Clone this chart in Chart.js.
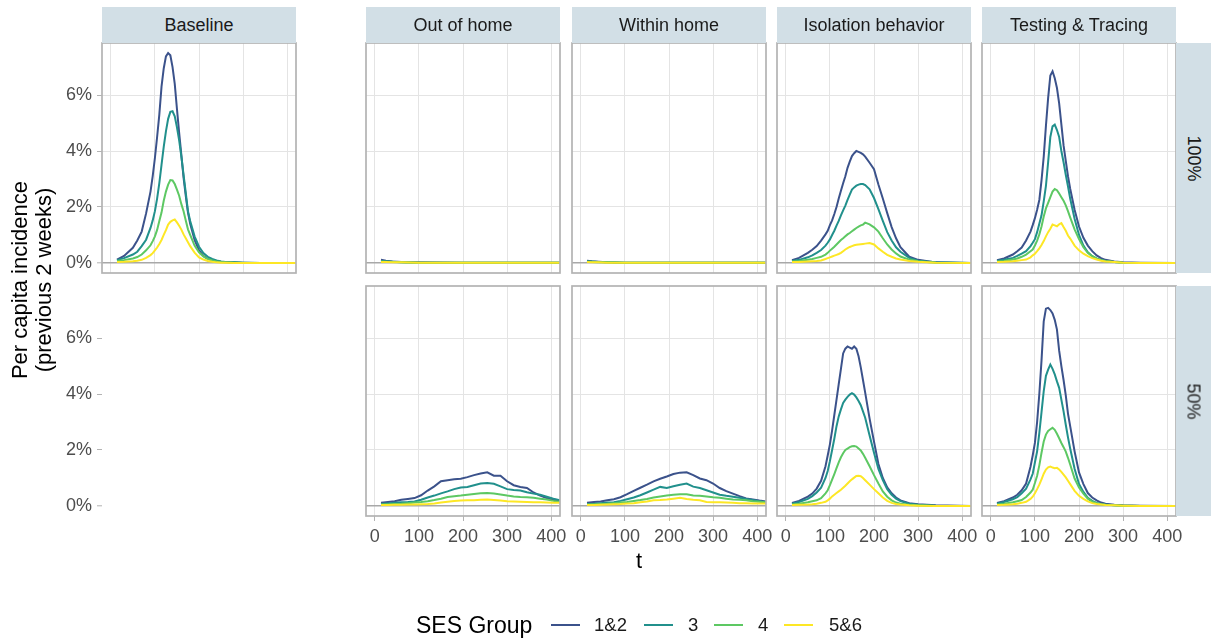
<!DOCTYPE html>
<html>
<head>
<meta charset="utf-8">
<title>Per capita incidence by SES group</title>
<script src="https://cdn.jsdelivr.net/npm/chart.js@4.4.1/dist/chart.umd.min.js"></script>
<style>
  html, body { margin: 0; padding: 0; background: #ffffff; }
  #fig {
    position: relative; width: 1211px; height: 642px; overflow: hidden; background: #ffffff;
    font-family: "Liberation Sans", Arial, Helvetica, sans-serif;
  }
  #fig canvas { position: absolute; left: 0; top: 0; }
  .strip {
    position: absolute; background: #d2dfe6; color: #1a1a1a; font-size: 18px;
    display: flex; align-items: center; justify-content: center; white-space: nowrap;
  }
  .strip.side span { display: inline-block; transform: rotate(90deg); }
  .title { position: absolute; color: #000; white-space: nowrap; text-align: center; }
  .key { position: absolute; height: 2px; width: 29px; }
  .klabel { position: absolute; font-size: 18.5px; color: #1a1a1a; line-height: 22px; }
</style>
</head>
<body>
<div id="fig"></div>
<script>
// ---- values (per capita incidence over previous 2 weeks, in %) ----
const SES_GROUPS = ['1&2', '3', '4', '5&6'];
const SES_COLORS = ['#3B528B', '#21908C', '#5DC863', '#FDE725'];
const SCENARIOS = ['Baseline', 'Out of home', 'Within home', 'Isolation behavior', 'Testing & Tracing'];
const COMPLIANCE = ['100%', '50%'];
const X_TICKS = [0, 100, 200, 300, 400];
const Y_TICKS = [0, 2, 4, 6];

// day grids
const T_PEAK = [14, 30, 50, 60, 70, 80, 90, 95, 100, 105, 110, 115, 120, 125, 130, 135, 140, 145, 150, 155,
                160, 165, 170, 175, 180, 190, 200, 210, 220, 230, 240, 250, 260, 280, 300, 340, 420];
const T_BROAD = [14, 30, 45, 60, 75, 90, 105, 120, 135, 150, 165, 180, 195, 210, 225, 240, 255, 270, 285, 300,
                 315, 330, 345, 360, 375, 390, 405, 420];
const T_EARLY = [14, 25, 40, 60, 100, 200, 300, 420];

// Baseline
const BASE_12 = [0.12, 0.25, 0.54, 0.8, 1.12, 1.77, 2.55, 3.1, 3.75, 4.5, 5.3, 6.3, 6.95, 7.38, 7.5, 7.42, 7.0, 6.4, 5.5, 4.65, 3.85, 3.05, 2.4, 1.8, 1.4, 0.82, 0.45, 0.25, 0.15, 0.1, 0.06, 0.04, 0.03, 0.02, 0.01, 0, 0];
const BASE_3  = [0.1, 0.17, 0.3, 0.4, 0.6, 0.83, 1.25, 1.52, 1.85, 2.3, 2.85, 3.5, 4.15, 4.7, 5.15, 5.4, 5.42, 5.24, 4.85, 4.38, 3.8, 3.15, 2.5, 1.85, 1.5, 0.95, 0.58, 0.35, 0.22, 0.14, 0.09, 0.05, 0.03, 0.02, 0.01, 0, 0];
const BASE_4  = [0.07, 0.1, 0.16, 0.21, 0.3, 0.45, 0.63, 0.78, 0.95, 1.18, 1.5, 1.8, 2.22, 2.55, 2.8, 2.96, 2.95, 2.82, 2.62, 2.4, 2.1, 1.85, 1.52, 1.2, 1.0, 0.62, 0.38, 0.23, 0.14, 0.09, 0.05, 0.03, 0.02, 0.01, 0, 0, 0];
const BASE_56 = [0.03, 0.04, 0.06, 0.08, 0.11, 0.18, 0.28, 0.35, 0.45, 0.55, 0.68, 0.82, 1.0, 1.17, 1.37, 1.47, 1.52, 1.55, 1.45, 1.33, 1.19, 1.02, 0.88, 0.74, 0.6, 0.37, 0.2, 0.12, 0.07, 0.04, 0.02, 0.01, 0.01, 0, 0, 0, 0];

// Out of home, 100%
const OUT100_12 = [0.11, 0.08, 0.05, 0.03, 0.02, 0.01, 0.01, 0.01];
const OUT100_3  = [0.07, 0.06, 0.04, 0.02, 0.01, 0.01, 0.01, 0.01];
const OUT100_4  = [0.05, 0.04, 0.03, 0.02, 0.01, 0.01, 0.01, 0.01];
const OUT100_56 = [0.03, 0.03, 0.02, 0.02, 0.01, 0.01, 0.01, 0.01];

// Within home, 100%
const IN100_12 = [0.08, 0.06, 0.04, 0.02, 0.01, 0.01, 0.01, 0.01];
const IN100_3  = [0.06, 0.05, 0.03, 0.02, 0.01, 0.01, 0.01, 0.01];
const IN100_4  = [0.04, 0.03, 0.02, 0.02, 0.01, 0.01, 0.01, 0.01];
const IN100_56 = [0.03, 0.02, 0.02, 0.01, 0.01, 0.01, 0.01, 0.01];

// Isolation behavior, 100%
const ISO100_12 = [0.1, 0.18, 0.36, 0.47, 0.6, 0.8, 1.02, 1.15, 1.35, 1.52, 1.75, 2.0, 2.3, 2.58, 2.85, 3.1, 3.4, 3.62, 3.82, 3.92, 4.0, 3.97, 3.93, 3.88, 3.8, 3.58, 3.35, 2.8, 2.3, 1.78, 1.28, 0.88, 0.56, 0.22, 0.11, 0.02, 0];
const ISO100_3  = [0.07, 0.11, 0.2, 0.27, 0.36, 0.46, 0.62, 0.72, 0.84, 1.0, 1.15, 1.33, 1.5, 1.7, 1.88, 2.05, 2.25, 2.44, 2.62, 2.7, 2.76, 2.8, 2.82, 2.82, 2.78, 2.63, 2.32, 1.92, 1.5, 1.1, 0.8, 0.56, 0.4, 0.18, 0.08, 0.02, 0];
const ISO100_4  = [0.05, 0.07, 0.11, 0.14, 0.18, 0.22, 0.3, 0.36, 0.44, 0.51, 0.58, 0.66, 0.74, 0.82, 0.88, 0.95, 1.02, 1.07, 1.13, 1.19, 1.25, 1.3, 1.34, 1.37, 1.44, 1.38, 1.27, 1.12, 0.88, 0.66, 0.48, 0.34, 0.23, 0.12, 0.06, 0.01, 0];
const ISO100_56 = [0.03, 0.03, 0.05, 0.06, 0.07, 0.09, 0.14, 0.17, 0.2, 0.23, 0.26, 0.29, 0.32, 0.36, 0.42, 0.48, 0.53, 0.57, 0.6, 0.63, 0.65, 0.66, 0.67, 0.68, 0.69, 0.71, 0.66, 0.52, 0.4, 0.29, 0.22, 0.16, 0.12, 0.07, 0.04, 0.01, 0];

// Testing & Tracing, 100%
const TT100_12 = [0.1, 0.16, 0.3, 0.42, 0.55, 0.8, 1.12, 1.35, 1.6, 1.9, 2.25, 2.95, 3.8, 4.9, 5.9, 6.7, 6.85, 6.6, 6.25, 5.7, 4.95, 4.2, 3.65, 3.1, 2.65, 1.9, 1.3, 0.9, 0.62, 0.42, 0.27, 0.17, 0.11, 0.05, 0.02, 0.01, 0];
const TT100_3  = [0.07, 0.11, 0.18, 0.25, 0.33, 0.42, 0.6, 0.72, 0.85, 1.1, 1.4, 1.7, 2.2, 2.75, 3.6, 4.5, 4.88, 4.94, 4.75, 4.5, 4.0, 3.6, 3.15, 2.74, 2.3, 1.58, 1.0, 0.62, 0.38, 0.24, 0.15, 0.1, 0.06, 0.03, 0.01, 0, 0];
const TT100_4  = [0.05, 0.07, 0.12, 0.16, 0.22, 0.3, 0.42, 0.48, 0.62, 0.8, 1.02, 1.3, 1.66, 1.95, 2.15, 2.35, 2.55, 2.64, 2.6, 2.48, 2.35, 2.22, 2.06, 1.85, 1.63, 1.2, 0.85, 0.56, 0.36, 0.24, 0.16, 0.11, 0.07, 0.03, 0.01, 0, 0];
const TT100_56 = [0.03, 0.04, 0.06, 0.08, 0.1, 0.12, 0.2, 0.27, 0.33, 0.42, 0.52, 0.64, 0.78, 0.95, 1.1, 1.22, 1.37, 1.34, 1.31, 1.38, 1.42, 1.28, 1.15, 0.98, 0.87, 0.62, 0.45, 0.33, 0.24, 0.17, 0.12, 0.08, 0.05, 0.03, 0.01, 0, 0];

// Out of home, 50%
const OUT50_12 = [0.11, 0.14, 0.17, 0.22, 0.25, 0.28, 0.38, 0.55, 0.7, 0.88, 0.92, 0.95, 0.97, 1.03, 1.1, 1.16, 1.2, 1.08, 1.08, 0.88, 0.74, 0.68, 0.64, 0.48, 0.37, 0.28, 0.21, 0.16];
const OUT50_3  = [0.07, 0.09, 0.11, 0.13, 0.14, 0.16, 0.22, 0.3, 0.37, 0.45, 0.52, 0.6, 0.66, 0.68, 0.74, 0.8, 0.82, 0.79, 0.7, 0.6, 0.57, 0.55, 0.49, 0.44, 0.4, 0.33, 0.26, 0.2];
const OUT50_4  = [0.05, 0.06, 0.07, 0.08, 0.1, 0.12, 0.14, 0.17, 0.21, 0.26, 0.32, 0.35, 0.37, 0.4, 0.43, 0.45, 0.46, 0.44, 0.41, 0.37, 0.34, 0.32, 0.31, 0.29, 0.26, 0.23, 0.18, 0.14];
const OUT50_56 = [0.03, 0.03, 0.04, 0.04, 0.05, 0.05, 0.06, 0.07, 0.09, 0.12, 0.15, 0.18, 0.19, 0.2, 0.2, 0.22, 0.23, 0.21, 0.19, 0.17, 0.16, 0.15, 0.14, 0.13, 0.13, 0.12, 0.11, 0.11];

// Within home, 50%
const IN50_12 = [0.11, 0.14, 0.16, 0.2, 0.24, 0.31, 0.42, 0.54, 0.65, 0.76, 0.88, 0.97, 1.05, 1.14, 1.19, 1.2, 1.1, 0.98, 0.92, 0.8, 0.64, 0.53, 0.44, 0.35, 0.27, 0.23, 0.19, 0.16];
const IN50_3  = [0.07, 0.08, 0.1, 0.12, 0.13, 0.18, 0.24, 0.3, 0.38, 0.48, 0.58, 0.68, 0.64, 0.7, 0.76, 0.8, 0.69, 0.64, 0.56, 0.48, 0.4, 0.36, 0.33, 0.29, 0.25, 0.21, 0.17, 0.13];
const IN50_4  = [0.05, 0.06, 0.07, 0.08, 0.1, 0.12, 0.14, 0.18, 0.21, 0.25, 0.3, 0.34, 0.37, 0.4, 0.42, 0.42, 0.37, 0.36, 0.34, 0.31, 0.29, 0.26, 0.23, 0.22, 0.2, 0.17, 0.15, 0.13];
const IN50_56 = [0.03, 0.03, 0.04, 0.05, 0.06, 0.07, 0.09, 0.1, 0.13, 0.16, 0.2, 0.21, 0.23, 0.26, 0.29, 0.25, 0.22, 0.2, 0.14, 0.13, 0.13, 0.12, 0.11, 0.1, 0.1, 0.09, 0.09, 0.09];

// Isolation behavior, 50%
const ISO50_12 = [0.11, 0.18, 0.33, 0.44, 0.62, 0.9, 1.42, 1.8, 2.2, 2.7, 3.25, 3.8, 4.35, 4.9, 5.45, 5.62, 5.7, 5.66, 5.62, 5.7, 5.62, 5.35, 4.95, 4.5, 4.05, 3.12, 2.3, 1.5, 1.0, 0.66, 0.45, 0.3, 0.2, 0.1, 0.06, 0.02, 0];
const ISO50_3  = [0.08, 0.14, 0.25, 0.35, 0.48, 0.65, 1.0, 1.25, 1.6, 2.0, 2.4, 2.85, 3.2, 3.45, 3.68, 3.8, 3.9, 3.98, 4.03, 3.98, 3.88, 3.75, 3.6, 3.38, 3.15, 2.52, 1.9, 1.32, 0.92, 0.6, 0.4, 0.26, 0.17, 0.08, 0.04, 0.01, 0];
const ISO50_4  = [0.05, 0.08, 0.13, 0.17, 0.2, 0.28, 0.45, 0.56, 0.74, 0.94, 1.14, 1.35, 1.56, 1.74, 1.88, 2.0, 2.05, 2.1, 2.13, 2.14, 2.12, 2.05, 1.98, 1.86, 1.72, 1.42, 1.1, 0.8, 0.52, 0.33, 0.2, 0.12, 0.08, 0.04, 0.02, 0, 0];
const ISO50_56 = [0.03, 0.04, 0.05, 0.06, 0.08, 0.11, 0.15, 0.2, 0.26, 0.34, 0.4, 0.46, 0.52, 0.58, 0.65, 0.72, 0.8, 0.88, 0.95, 1.01, 1.07, 1.08, 1.06, 1.0, 0.92, 0.76, 0.6, 0.45, 0.3, 0.18, 0.11, 0.07, 0.05, 0.02, 0.01, 0, 0];

// Testing & Tracing, 50%
const TT50_12 = [0.11, 0.17, 0.3, 0.4, 0.56, 0.8, 1.4, 1.8, 2.25, 3.0, 4.0, 5.2, 6.6, 7.05, 7.08, 7.0, 6.88, 6.65, 6.3, 5.55, 5.0, 4.5, 3.95, 3.3, 2.85, 1.95, 1.2, 0.78, 0.46, 0.3, 0.2, 0.12, 0.08, 0.04, 0.02, 0.01, 0];
const TT50_3  = [0.08, 0.14, 0.24, 0.31, 0.45, 0.62, 0.95, 1.15, 1.55, 1.95, 2.6, 3.35, 4.1, 4.65, 4.87, 5.05, 4.9, 4.7, 4.45, 4.22, 3.8, 3.38, 2.9, 2.45, 2.05, 1.33, 0.78, 0.5, 0.29, 0.18, 0.11, 0.07, 0.05, 0.02, 0.01, 0, 0];
const TT50_4  = [0.05, 0.08, 0.13, 0.17, 0.21, 0.32, 0.48, 0.58, 0.82, 1.08, 1.45, 1.9, 2.3, 2.55, 2.68, 2.74, 2.79, 2.72, 2.58, 2.42, 2.25, 2.1, 1.94, 1.72, 1.48, 0.98, 0.66, 0.44, 0.26, 0.15, 0.1, 0.06, 0.04, 0.02, 0.01, 0, 0];
const TT50_56 = [0.03, 0.04, 0.06, 0.08, 0.11, 0.15, 0.25, 0.33, 0.45, 0.6, 0.76, 0.95, 1.15, 1.3, 1.38, 1.41, 1.37, 1.35, 1.36, 1.3, 1.22, 1.12, 1.02, 0.9, 0.78, 0.54, 0.36, 0.25, 0.16, 0.1, 0.07, 0.05, 0.03, 0.02, 0.01, 0, 0];

// ---- facet layout ----
const FIG_W = 1211, FIG_H = 642;
const COL_LEFT = [102, 366, 572, 777, 982];
const ROW_TOP = [43, 286];
const PANEL_W = 194, PANEL_H = 230;
const X_MIN = -20, X_MAX = 420;
const Y_MIN = -0.36, Y_MAX = 7.86;

const FONT = '"Liberation Sans", Arial, Helvetica, sans-serif';
const GRID = '#e4e4e4';
const ZERO = '#a8a8a8';
const FRAME = '#b3b3b3';
const TICK_TEXT = '#4d4d4d';

const PANELS = [
  { row: 0, col: 0, t: T_PEAK,  series: [BASE_12, BASE_3, BASE_4, BASE_56] },
  { row: 0, col: 1, t: T_EARLY, series: [OUT100_12, OUT100_3, OUT100_4, OUT100_56] },
  { row: 0, col: 2, t: T_EARLY, series: [IN100_12, IN100_3, IN100_4, IN100_56] },
  { row: 0, col: 3, t: T_PEAK,  series: [ISO100_12, ISO100_3, ISO100_4, ISO100_56] },
  { row: 0, col: 4, t: T_PEAK,  series: [TT100_12, TT100_3, TT100_4, TT100_56] },
  { row: 1, col: 1, t: T_BROAD, series: [OUT50_12, OUT50_3, OUT50_4, OUT50_56] },
  { row: 1, col: 2, t: T_BROAD, series: [IN50_12, IN50_3, IN50_4, IN50_56] },
  { row: 1, col: 3, t: T_PEAK,  series: [ISO50_12, ISO50_3, ISO50_4, ISO50_56] },
  { row: 1, col: 4, t: T_PEAK,  series: [TT50_12, TT50_3, TT50_4, TT50_56] }
];

const fig = document.getElementById('fig');

// frame around each panel, drawn over the lines
const panelFrame = {
  id: 'panelFrame',
  afterDraw(chart) {
    const { ctx, chartArea: a } = chart;
    ctx.save();
    ctx.strokeStyle = FRAME;
    ctx.lineWidth = 1.7;
    ctx.strokeRect(a.left, a.top, a.right - a.left, a.bottom - a.top);
    ctx.restore();
  }
};

function xScale(showLabels, height) {
  return {
    type: 'linear', min: X_MIN, max: X_MAX, display: true,
    afterBuildTicks: s => { s.ticks = X_TICKS.map(v => ({ value: v })); },
    grid: { color: GRID, lineWidth: 1, drawTicks: showLabels, tickLength: 5, tickColor: FRAME, tickWidth: 1 },
    border: { display: false },
    ticks: { display: showLabels, color: TICK_TEXT, font: { family: FONT, size: 18 }, padding: 5,
             maxRotation: 0, autoSkip: false },
    afterFit: s => { s.height = height; }
  };
}

function yScale(showLabels, width, onArea) {
  return {
    type: 'linear', min: Y_MIN, max: Y_MAX, display: true,
    afterBuildTicks: s => { s.ticks = Y_TICKS.map(v => ({ value: v })); },
    grid: {
      drawOnChartArea: onArea,
      color: c => (c.tick && c.tick.value === 0 ? ZERO : GRID),
      lineWidth: c => (c.tick && c.tick.value === 0 ? 1.6 : 1),
      drawTicks: showLabels, tickLength: 5, tickColor: FRAME, tickWidth: 1
    },
    border: { display: false },
    ticks: { display: showLabels, color: TICK_TEXT, font: { family: FONT, size: 18 }, padding: 5,
             callback: v => v + '%' },
    afterFit: s => { s.width = width; }
  };
}

function newCanvas() {
  const cv = document.createElement('canvas');
  cv.width = FIG_W; cv.height = FIG_H;
  cv.style.width = FIG_W + 'px'; cv.style.height = FIG_H + 'px';
  fig.appendChild(cv);
  return cv;
}

function makePanel(p) {
  const left = COL_LEFT[p.col], top = ROW_TOP[p.row];
  const showY = p.col === 0;
  const showX = p.row === 1;
  const yW = showY ? left : 0;
  const xH = showX ? 40 : 0;
  const datasets = p.series.map((vals, i) => ({
    label: SES_GROUPS[i],
    data: p.t.map((t, k) => ({ x: t, y: vals[k] })),
    borderColor: SES_COLORS[i],
    backgroundColor: SES_COLORS[i],
    borderWidth: 2,
    pointRadius: 0,
    tension: 0,
    fill: false,
    order: SES_GROUPS.length - 1 - i
  }));
  new Chart(newCanvas(), {
    type: 'line',
    data: { datasets },
    options: {
      responsive: false, animation: false, devicePixelRatio: 1,
      layout: { padding: { left: left - yW, top: top, right: FIG_W - (left + PANEL_W),
                           bottom: FIG_H - (top + PANEL_H) - xH } },
      plugins: { legend: { display: false }, tooltip: { enabled: false }, title: { display: false } },
      scales: { x: xScale(showX, xH), y: yScale(showY, yW, true) }
    },
    plugins: [panelFrame]
  });
}

PANELS.forEach(makePanel);

// y axis for the 50% row, standing at the left margin
new Chart(newCanvas(), {
  type: 'line',
  data: { datasets: [] },
  options: {
    responsive: false, animation: false, devicePixelRatio: 1,
    layout: { padding: { left: 0, top: ROW_TOP[1], right: FIG_W - (COL_LEFT[0] + 2),
                         bottom: FIG_H - (ROW_TOP[1] + PANEL_H) } },
    plugins: { legend: { display: false }, tooltip: { enabled: false } },
    scales: {
      x: { type: 'linear', min: X_MIN, max: X_MAX, display: false },
      y: yScale(true, COL_LEFT[0], false)
    }
  }
});

// ---- facet strips ----
function addDiv(cls, css, html) {
  const d = document.createElement('div');
  d.className = cls;
  Object.assign(d.style, css);
  d.innerHTML = html;
  fig.appendChild(d);
  return d;
}
SCENARIOS.forEach((name, c) => {
  addDiv('strip', { left: COL_LEFT[c] + 'px', top: '7px', width: PANEL_W + 'px', height: (ROW_TOP[0] - 7) + 'px' },
         name.replace('&', '&amp;'));
});
COMPLIANCE.forEach((lvl, r) => {
  addDiv('strip side', { left: (COL_LEFT[4] + PANEL_W) + 'px', top: ROW_TOP[r] + 'px',
                         width: (FIG_W - COL_LEFT[4] - PANEL_W) + 'px', height: PANEL_H + 'px' },
         '<span>' + lvl + '</span>');
});

// ---- axis titles ----
addDiv('title', { left: (COL_LEFT[0] + (COL_LEFT[4] + PANEL_W - COL_LEFT[0]) / 2 - 20) + 'px', top: '548px',
                  width: '40px', fontSize: '22px', lineHeight: '26px' }, 't');
addDiv('title', { left: (33 - 160) + 'px', top: (280 - 25) + 'px', width: '320px', height: '50px',
                  fontSize: '22px', lineHeight: '24px', transform: 'rotate(-90deg)' },
       'Per capita incidence<br>(previous 2 weeks)');

// ---- legend ----
addDiv('title', { left: '416px', top: '612px', fontSize: '23px', lineHeight: '26px', textAlign: 'left' }, 'SES Group');
const KEY_X = [551, 644, 714, 784];
const LABEL_X = [594, 688, 758, 829];
SES_GROUPS.forEach((g, i) => {
  addDiv('key', { left: KEY_X[i] + 'px', top: '624px', background: SES_COLORS[i] }, '');
  addDiv('klabel', { left: LABEL_X[i] + 'px', top: '614px' }, g.replace('&', '&amp;'));
});
</script>
</body>
</html>
